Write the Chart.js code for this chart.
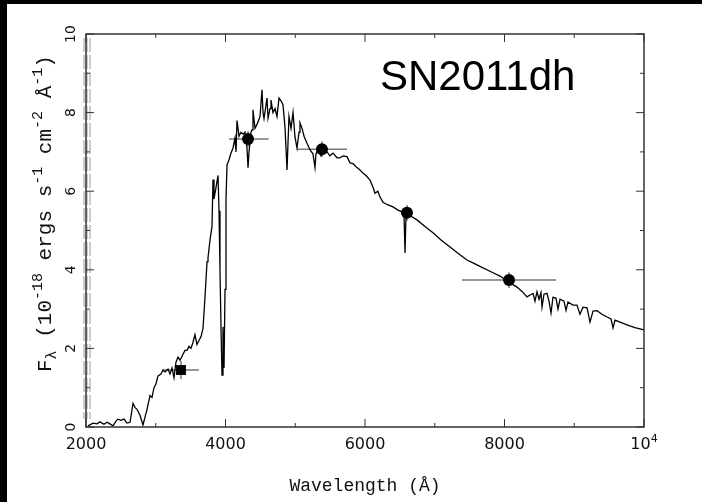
<!DOCTYPE html>
<html>
<head>
<meta charset="utf-8">
<script src="https://cdn.jsdelivr.net/npm/chart.js@4.4.0/dist/chart.umd.min.js"></script>
<style>
html, body { margin: 0; padding: 0; background: #fff; }
canvas { display: block; }
</style>
</head>
<body>
<canvas id="sn_chart" width="702" height="502"></canvas>
<script>
// SN2011dh spectrum, flux in 10^-18 ergs/s/cm2/A
var waveLen = [2029,2100,2158,2200,2258,2301,2344,2387,2430,2459,2502,2545,2588,2631,2674,2702,2731,2774,2817,2846,
  2875,2918,2946,2975,3004,3032,3075,3104,3133,3176,3204,3233,3262,3290,3319,3348,3391,3419,3448,3476,
  3505,3533,3562,3591,3620,3649,3677,3706,3735,3749,3778,3806,3821,3835,3864,3893,3907,3921,3936,3950,
  3964,3979,3993,4007,4022,4050,4079,4108,4136,4151,4165,4194,4222,4251,4280,4308,4323,4337,4366,4380,
  4394,4423,4452,4495,4523,4538,4552,4581,4595,4610,4638,4652,4681,4710,4738,4767,4796,4824,4853,4882,
  4910,4939,4968,4996,5025,5054,5068,5097,5126,5168,5212,5254,5283,5297,5326,5369,5412,5455,5498,5541,
  5599,5642,5685,5742,5785,5828,5885,5928,5971,6014,6072,6115,6143,6186,6215,6258,6330,6401,6473,6545,
  6559,6574,6588,6645,6745,6860,6975,7090,7219,7333,7462,7577,7692,7806,7935,8050,8179,8251,8323,8366,
  8409,8437,8466,8495,8523,8538,8566,8609,8638,8667,8695,8738,8767,8796,8853,8882,8910,8982,9039,9082,
  9125,9183,9226,9269,9326,9398,9470,9527,9556,9584,9656,9756,9871,10000];
var fluxVals = [0.03,0.10,0.08,0.13,0.07,0.12,0.08,0.03,0.15,0.20,0.17,0.20,0.10,0.12,0.60,0.50,0.45,0.30,0.05,0.25,
  0.45,0.80,0.75,1.00,1.10,1.30,1.35,1.45,1.40,1.47,1.35,1.50,1.25,1.65,1.78,1.70,1.85,1.95,1.95,2.05,
  2.00,2.15,2.35,2.10,2.20,2.30,2.50,3.30,4.20,4.30,4.76,5.10,6.30,5.80,6.10,6.40,5.50,4.00,2.50,1.32,
  2.55,1.50,3.50,5.80,6.67,6.80,6.97,7.10,7.35,7.00,7.80,7.40,7.50,7.45,7.50,7.10,6.60,7.00,7.50,7.56,
  8.07,7.60,7.70,7.90,8.58,8.00,7.85,8.20,8.37,7.86,8.10,8.32,8.00,8.10,7.90,8.37,8.30,8.20,7.63,6.54,
  7.90,7.60,8.00,7.38,7.10,7.50,7.74,7.60,7.40,7.22,7.05,6.95,6.60,6.95,7.05,6.90,7.05,7.00,6.90,6.97,
  6.85,6.85,6.90,6.88,6.72,6.70,6.60,6.54,6.46,6.40,6.28,6.10,5.95,6.00,5.85,5.72,5.65,5.60,5.52,5.47,
  5.40,4.43,5.40,5.38,5.27,5.10,4.94,4.76,4.58,4.42,4.25,4.15,4.05,3.95,3.84,3.70,3.56,3.45,3.31,3.36,
  3.40,3.20,3.44,3.25,3.42,3.05,3.38,3.40,3.20,2.90,3.30,3.28,3.00,3.25,3.20,2.97,3.18,3.10,3.10,2.87,
  3.05,3.03,2.67,2.95,2.96,2.87,2.80,2.75,2.52,2.72,2.67,2.60,2.53,2.47];

// broadband photometry
var photWave = [3362, 4323, 5383, 6602, 8065];
var photFlux = [1.45, 7.33, 7.07, 5.45, 3.74];
var photWaveLo = [3104, 4050, 5025, 6550, 7390];
var photWaveHi = [3620, 4620, 5742, 6650, 8740];
var photFluxErr = [0.23, 0.2, 0.2, 0.2, 0.2];
var photShape = ['rect', 'circle', 'circle', 'circle', 'circle'];

var xTicks = [2000, 4000, 6000, 8000, 10000];
var xTickLabels = ['2000', '4000', '6000', '8000', '10^4'];
var yTicks = [0, 2, 4, 6, 8, 10];
var yTickLabels = ['0', '2', '4', '6', '8', '10'];

var specData = [];
for (let i = 0; i < waveLen.length; i++) {
    specData.push({x: waveLen[i], y: fluxVals[i]});
}
var photData = [];
for (let i = 0; i < photWave.length; i++) {
    photData.push({x: photWave[i], y: photFlux[i]});
}

// draw text pieces one after another: [text, size, shift]
function richText(c, parts, x, y, family) {
    var pos = x;
    for (let i = 0; i < parts.length; i++) {
        c.font = parts[i][1] + 'px ' + family;
        c.fillText(parts[i][0], pos, y + parts[i][2]);
        pos += c.measureText(parts[i][0]).width;
    }
}
function richWidth(c, parts, family) {
    var w = 0;
    for (let i = 0; i < parts.length; i++) {
        c.font = parts[i][1] + 'px ' + family;
        w += c.measureText(parts[i][0]).width;
    }
    return w;
}

var framePlugin = {
    id: 'frame',
    beforeDraw: function(chart) {
        var c = chart.ctx;
        c.save();
        c.fillStyle = '#fff';
        c.fillRect(0, 0, chart.width, chart.height);
        c.fillStyle = '#000';
        c.fillRect(0, 0, chart.width, 4);
        c.fillRect(0, 0, 7, chart.height);
        c.restore();
    },
    beforeDatasetsDraw: function(chart) {
        var c = chart.ctx;
        var xs = chart.scales.x, ys = chart.scales.y;
        c.save();
        c.strokeStyle = '#777';
        c.lineWidth = 1.5;
        for (let i = 0; i < photWave.length; i++) {
            var px = xs.getPixelForValue(photWave[i]);
            var py = ys.getPixelForValue(photFlux[i]);
            c.beginPath();
            c.moveTo(xs.getPixelForValue(photWaveLo[i]), py);
            c.lineTo(xs.getPixelForValue(photWaveHi[i]), py);
            c.moveTo(px, ys.getPixelForValue(photFlux[i] - photFluxErr[i]));
            c.lineTo(px, ys.getPixelForValue(photFlux[i] + photFluxErr[i]));
            c.stroke();
        }
        c.restore();
    },
    afterDraw: function(chart) {
        var c = chart.ctx;
        var a = chart.chartArea;
        var xs = chart.scales.x, ys = chart.scales.y;
        c.save();

        // scan artefact along the left axis
        c.strokeStyle = '#999';
        c.lineWidth = 1;
        c.setLineDash([14, 3]);
        [84, 87, 90].forEach(function(lx) {
            c.beginPath();
            c.moveTo(lx, a.top + 4);
            c.lineTo(lx, a.bottom - 8);
            c.stroke();
        });
        c.setLineDash([]);

        // frame
        c.strokeStyle = '#333';
        c.lineWidth = 1.5;
        c.strokeRect(a.left, a.top, a.right - a.left, a.bottom - a.top);

        // inward ticks
        c.lineWidth = 1;
        for (let v = 2000; v <= 10000; v += 1000) {
            var tx = xs.getPixelForValue(v);
            var len = (v % 2000 === 0) ? 8 : 4;
            c.beginPath();
            c.moveTo(tx, a.bottom); c.lineTo(tx, a.bottom - len);
            c.moveTo(tx, a.top); c.lineTo(tx, a.top + len);
            c.stroke();
        }
        for (let v = 0; v <= 10; v += 1) {
            var ty = ys.getPixelForValue(v);
            var len2 = (v % 2 === 0) ? 8 : 4;
            c.beginPath();
            c.moveTo(a.left, ty); c.lineTo(a.left + len2, ty);
            c.moveTo(a.right, ty); c.lineTo(a.right - len2, ty);
            c.stroke();
        }

        // x tick labels
        c.fillStyle = '#111';
        c.textBaseline = 'alphabetic';
        for (let i = 0; i < xTicks.length; i++) {
            var lab = xTickLabels[i];
            var parts;
            if (lab.indexOf('^') >= 0) {
                var sp = lab.split('^');
                parts = [[sp[0], 16, 0], [sp[1], 11, -7]];
            } else {
                parts = [[lab, 16, 0]];
            }
            var w = richWidth(c, parts, '"DejaVu Sans"');
            richText(c, parts, xs.getPixelForValue(xTicks[i]) - w / 2, 449, '"DejaVu Sans"');
        }

        // y tick labels, rotated
        c.font = '14px "DejaVu Sans"';
        c.textAlign = 'center';
        c.textBaseline = 'middle';
        for (let i = 0; i < yTicks.length; i++) {
            c.save();
            c.translate(71, ys.getPixelForValue(yTicks[i]));
            c.rotate(-Math.PI / 2);
            c.fillText(yTickLabels[i], 0, 0);
            c.restore();
        }
        c.textAlign = 'left';
        c.textBaseline = 'alphabetic';

        // axis titles
        var mono = '"Liberation Mono"';
        c.font = '18px ' + mono;
        c.textAlign = 'center';
        c.fillText('Wavelength (\u00c5)', (a.left + a.right) / 2, 491);
        c.textAlign = 'left';

        var yTitle = [['F', 21, 0], ['\u03bb', 15, 5], [' (10', 21, 0], ['-18', 15, -9],
            [' ergs s', 21, 0], ['-1', 15, -9], [' cm', 21, 0], ['-2', 15, -9],
            [' \u00c5', 21, 0], ['-1', 15, -9], [')', 21, 0]];
        c.save();
        c.translate(51, 372);
        c.rotate(-Math.PI / 2);
        richText(c, yTitle, 0, 0, mono);
        c.restore();

        // object name
        c.fillStyle = '#000';
        c.font = '42px "Liberation Sans"';
        c.fillText('SN2011dh', 380, 90);

        c.restore();
    }
};

var ctx = document.getElementById('sn_chart').getContext('2d');
var snChart = new Chart(ctx, {
    type: 'line',
    data: {
        datasets: [{
            label: 'Photometry',
            type: 'scatter',
            data: photData,
            pointStyle: photShape,
            pointRadius: [7, 6, 6, 6, 6],
            backgroundColor: '#000',
            borderColor: '#000',
            borderWidth: 0,
            order: 0
        },
        {
            label: 'Spectrum',
            data: specData,
            borderColor: '#000',
            borderWidth: 1.3,
            pointRadius: 0,
            tension: 0,
            fill: false,
            order: 1
        }]
    },
    options: {
        responsive: false,
        animation: false,
        layout: {
            padding: {left: 86, top: 34, right: 58, bottom: 75}
        },
        plugins: {
            legend: {display: false},
            tooltip: {enabled: false}
        },
        scales: {
            x: {type: 'linear', min: 2000, max: 10000, display: false},
            y: {type: 'linear', min: 0, max: 10, display: false}
        }
    },
    plugins: [framePlugin]
});
</script>
</body>
</html>
